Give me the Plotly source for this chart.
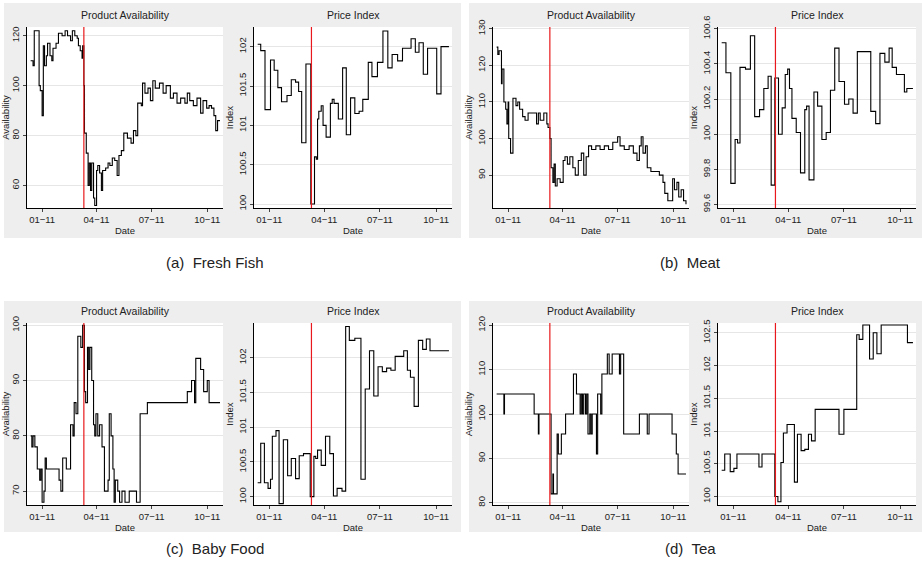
import plotly.graph_objects as go

W, H = 922, 574

fish_av_d = ["2010-12-13","2010-12-17","2010-12-19","2010-12-25","2010-12-27","2010-12-29","2011-01-01","2011-01-03","2011-01-05","2011-01-08","2011-01-10","2011-01-14","2011-01-17","2011-01-19","2011-01-24","2011-01-28","2011-02-03","2011-02-08","2011-02-12","2011-02-17","2011-02-20","2011-02-24","2011-02-28","2011-03-02","2011-03-05","2011-03-08","2011-03-09","2011-03-11","2011-03-12","2011-03-15","2011-03-18","2011-03-20","2011-03-22","2011-03-24","2011-03-27","2011-03-29","2011-04-01","2011-04-03","2011-04-06","2011-04-09","2011-04-11","2011-04-16","2011-04-20","2011-04-23","2011-04-27","2011-05-01","2011-05-05","2011-05-08","2011-05-12","2011-05-16","2011-05-22","2011-05-28","2011-06-01","2011-06-05","2011-06-08","2011-06-14","2011-06-16","2011-06-20","2011-06-25","2011-06-29","2011-07-03","2011-07-07","2011-07-14","2011-07-20","2011-07-25","2011-08-01","2011-08-06","2011-08-12","2011-08-18","2011-08-25","2011-08-29","2011-09-02","2011-09-08","2011-09-14","2011-09-20","2011-09-24","2011-09-30","2011-10-04","2011-10-08","2011-10-12","2011-10-15","2011-10-18","2011-10-22"]
fish_av_v = [110,108,122,122,100,98,88,116,108,112,117,112,110,115,117,121,120,122,120,118,122,120,119,116,114,111,116,100,81,73,60,69,58,69,55,52,66,68,65,58,66,67,69,68,71,70,64,72,74,81,79,77,82,80,93,92,101,97,99,94,102,99,101,97,100,95,97,93,95,93,97,94,92,95,89,94,91,92,91,88,82,86,86]

fish_pr_d = ["2010-12-13","2010-12-18","2010-12-25","2011-01-03","2011-01-09","2011-01-15","2011-01-21","2011-01-30","2011-02-06","2011-02-13","2011-02-18","2011-02-23","2011-03-02","2011-03-10","2011-03-16","2011-03-19","2011-03-21","2011-03-23","2011-03-27","2011-03-30","2011-04-04","2011-04-11","2011-04-14","2011-04-17","2011-04-24","2011-05-01","2011-05-07","2011-05-14","2011-05-21","2011-05-28","2011-06-03","2011-06-12","2011-06-18","2011-06-27","2011-07-06","2011-07-14","2011-07-21","2011-07-30","2011-08-07","2011-08-21","2011-08-28","2011-09-03","2011-09-10","2011-09-17","2011-10-02","2011-10-09","2011-10-22"]
fish_pr_v = [102.03,101.95,101.2,101.83,101.7,101.48,101.3,101.38,101.58,101.55,101.43,100.78,101.78,100.0,100.6,100.57,101.08,101.18,101.25,101.0,100.85,101.28,101.33,101.28,101.08,101.73,100.88,101.35,101.15,101.18,101.33,101.8,101.62,101.8,102.2,101.73,101.9,101.82,101.98,102.1,101.93,102.05,101.65,101.98,101.4,102.0,102.0]

meat_av_d = ["2010-12-13","2010-12-15","2010-12-17","2010-12-21","2010-12-22","2010-12-25","2010-12-28","2010-12-30","2011-01-01","2011-01-02","2011-01-05","2011-01-09","2011-01-14","2011-01-17","2011-01-20","2011-01-25","2011-01-29","2011-02-03","2011-02-10","2011-02-17","2011-02-20","2011-02-23","2011-03-01","2011-03-06","2011-03-08","2011-03-11","2011-03-13","2011-03-16","2011-03-18","2011-03-20","2011-03-23","2011-03-28","2011-04-02","2011-04-05","2011-04-09","2011-04-13","2011-04-18","2011-04-22","2011-04-27","2011-05-02","2011-05-06","2011-05-10","2011-05-14","2011-05-19","2011-05-26","2011-06-02","2011-06-09","2011-06-16","2011-06-23","2011-07-01","2011-07-05","2011-07-12","2011-07-20","2011-07-27","2011-08-02","2011-08-06","2011-08-09","2011-08-12","2011-08-16","2011-08-19","2011-08-25","2011-09-01","2011-09-08","2011-09-14","2011-09-17","2011-09-22","2011-09-30","2011-10-03","2011-10-07","2011-10-10","2011-10-14","2011-10-18","2011-10-22"]
meat_av_v = [125,123,124,115,119,110,108,104,110,100,96,111,109,110,108,106,105,107,107,104,107,105,107,104,103,100,92,88,93,87,89,88,94,95,93,95,92,90,94,96,90,95,98,97,98,97,98,97,99,100.5,98,97,98,96,94,98,100.5,96,98,92,91,91,90,88,85,83,89,86,88,84,86,83,82]

meat_pr_d = ["2010-12-13","2010-12-20","2010-12-28","2011-01-04","2011-01-08","2011-01-12","2011-01-21","2011-01-29","2011-02-05","2011-02-13","2011-02-20","2011-02-27","2011-03-04","2011-03-10","2011-03-16","2011-03-22","2011-03-27","2011-03-31","2011-04-03","2011-04-07","2011-04-14","2011-04-21","2011-04-28","2011-05-01","2011-05-05","2011-05-13","2011-05-19","2011-05-26","2011-06-02","2011-06-09","2011-06-16","2011-06-23","2011-07-02","2011-07-09","2011-07-16","2011-07-23","2011-08-14","2011-08-22","2011-08-29","2011-09-06","2011-09-13","2011-09-18","2011-09-25","2011-10-08","2011-10-12","2011-10-22"]
meat_pr_v = [100.52,100.35,99.72,99.97,99.95,100.38,100.37,100.56,100.1,100.14,100.26,100.33,99.71,100.32,100.0,100.15,100.34,100.37,100.26,100.09,100.01,99.78,100.14,100.16,99.74,100.24,100.16,99.97,100.01,100.25,100.49,100.3,100.17,100.2,100.12,100.47,100.13,100.06,100.46,100.41,100.49,100.38,100.34,100.24,100.26,100.26]

baby_av_d = ["2010-12-13","2010-12-15","2010-12-17","2010-12-20","2010-12-24","2010-12-28","2010-12-30","2011-01-01","2011-01-04","2011-01-06","2011-01-08","2011-01-29","2011-02-01","2011-02-04","2011-02-10","2011-02-17","2011-02-21","2011-02-23","2011-02-26","2011-03-01","2011-03-06","2011-03-09","2011-03-12","2011-03-14","2011-03-17","2011-03-19","2011-03-21","2011-03-24","2011-03-27","2011-03-29","2011-03-31","2011-04-03","2011-04-06","2011-04-10","2011-04-14","2011-04-20","2011-04-22","2011-04-25","2011-04-28","2011-04-30","2011-05-02","2011-05-06","2011-05-09","2011-05-13","2011-05-18","2011-05-25","2011-06-06","2011-06-12","2011-06-24","2011-08-29","2011-09-05","2011-09-10","2011-09-12","2011-09-20","2011-09-25","2011-10-01","2011-10-04","2011-10-22"]
baby_av_v = [80,78,80,78,74,72,74,68,70,76,74,72,70,76,74,82,80,86,84,98,96,100,88,86,96,92,96,90,82,80,84,80,82,78,70,72,84,80,74,68,72,70,68,70,68,70,68,84,86,88,90,86,94,92,88,90,86,86]

baby_pr_d = ["2010-12-13","2010-12-18","2010-12-24","2010-12-30","2011-01-03","2011-01-06","2011-01-12","2011-01-17","2011-01-24","2011-01-31","2011-02-06","2011-02-13","2011-02-19","2011-02-26","2011-03-09","2011-03-15","2011-03-18","2011-03-21","2011-03-27","2011-04-03","2011-04-10","2011-04-16","2011-04-22","2011-04-30","2011-05-06","2011-05-12","2011-05-21","2011-05-31","2011-06-07","2011-06-14","2011-06-21","2011-06-28","2011-07-05","2011-07-12","2011-07-19","2011-07-26","2011-08-09","2011-08-15","2011-08-20","2011-08-26","2011-09-02","2011-09-09","2011-09-15","2011-09-21","2011-10-22"]
baby_pr_v = [100.2,100.77,100.2,100.12,100.25,100.87,100.95,99.9,100.82,100.3,100.55,100.26,100.59,100.62,100.0,100.58,100.55,100.67,100.45,100.87,100.62,100.01,100.12,100.08,102.45,102.25,102.28,100.25,101.55,102.1,101.45,101.87,101.8,101.85,101.82,102.02,102.1,101.82,101.72,101.3,102.25,102.12,102.27,102.1,102.1]

tea_av_d = ["2010-12-13","2010-12-25","2010-12-26","2011-02-13","2011-02-20","2011-02-21","2011-03-13","2011-03-16","2011-03-17","2011-03-23","2011-03-25","2011-03-30","2011-04-06","2011-04-19","2011-04-24","2011-04-30","2011-05-02","2011-05-04","2011-05-06","2011-05-09","2011-05-11","2011-05-13","2011-05-16","2011-05-18","2011-05-20","2011-05-27","2011-05-29","2011-06-03","2011-06-05","2011-06-14","2011-06-17","2011-06-22","2011-07-04","2011-07-06","2011-07-11","2011-08-06","2011-08-19","2011-08-22","2011-09-29","2011-10-06","2011-10-09","2011-10-22"]
tea_av_v = [104.5,100,104.5,100,95.5,100,82,86.5,82,95.5,91,95.5,100,109,104.5,100,104.5,100,104.5,100,104.5,95.5,100,95.5,100,91,104.5,100,109,113.5,109,113.5,109,113.5,95.5,100,95.5,100,95.5,91,86.5,86.5]

tea_pr_d = ["2010-12-13","2010-12-18","2010-12-27","2011-01-02","2011-01-07","2011-02-12","2011-02-17","2011-03-10","2011-03-15","2011-03-20","2011-03-24","2011-03-30","2011-04-11","2011-04-16","2011-04-22","2011-04-28","2011-05-04","2011-05-09","2011-05-15","2011-06-23","2011-07-01","2011-07-22","2011-07-26","2011-08-01","2011-08-12","2011-08-18","2011-08-24","2011-08-31","2011-10-13","2011-10-22"]
tea_pr_v = [100.4,100.65,100.38,100.43,100.65,100.45,100.65,100.0,99.92,100.52,100.97,101.1,100.22,100.95,100.7,100.72,100.95,100.85,101.33,100.95,101.33,102.47,102.4,102.62,102.1,102.5,102.18,102.62,102.35,102.35]

tick_vals = ["2011-01-01","2011-04-01","2011-07-01","2011-10-01"]
tick_text = ["01\u221211","04\u221211","07\u221211","10\u221211"]
event_date = "2011-03-11"
captions = ["(a)  Fresh Fish","(b)  Meat","(c)  Baby Food","(d)  Tea"]

series = [
    (fish_av_d, fish_av_v, "Availability", [51,123.5], [60,80,100,120]),
    (fish_pr_d, fish_pr_v, "Index", [99.95,102.25], [100,100.5,101,101.5,102]),
    (meat_av_d, meat_av_v, "Availability", [81,130.5], [80,90,100,110,120,130]),
    (meat_pr_d, meat_pr_v, "Index", [99.58,100.61], [99.6,99.8,100,100.2,100.4,100.6]),
    (baby_av_d, baby_av_v, "Availability", [67.5,100.4], [70,80,90,100]),
    (baby_pr_d, baby_pr_v, "Index", [99.88,102.5], [100,100.5,101,101.5,102]),
    (tea_av_d, tea_av_v, "Availability", [79.5,120.5], [80,90,100,110,120]),
    (tea_pr_d, tea_pr_v, "Index", [99.87,102.65], [100,100.5,101,101.5,102,102.5]),
]

xpix = [(27,223),(254,452),(493,689),(718,916)]
ypix = [(27,208),(323,505)]
boxes = [(4,3,461,238),(469,3,922,238),(4,301,461,532),(469,301,922,532)]

fig = go.Figure()
layout = dict(width=W, height=H, margin=dict(l=0,r=0,t=0,b=0), paper_bgcolor="white",
              plot_bgcolor="white", showlegend=False, font=dict(family="Liberation Sans, Arial", color="#222"))
shapes, annots = [], []
for (x0,y0,x1,y1) in boxes:
    shapes.append(dict(type="rect", xref="paper", yref="paper", x0=x0/W, x1=x1/W, y0=1-y1/H, y1=1-y0/H,
                       fillcolor="#eeeeee", line=dict(width=0), layer="below"))
for i in range(8):
    xp = xpix[i%4]; yp = ypix[i//4]
    shapes.append(dict(type="rect", xref="paper", yref="paper", x0=xp[0]/W, x1=xp[1]/W, y0=1-yp[1]/H, y1=1-yp[0]/H,
                       fillcolor="white", line=dict(width=0), layer="below"))
for i,(d,v,yt,yr,yticks) in enumerate(series):
    k = i+1
    xp = xpix[i%4]; yp = ypix[i//4]
    xn = "x" if k==1 else f"x{k}"; yn = "y" if k==1 else f"y{k}"
    fig.add_trace(go.Scatter(x=d, y=v, mode="lines", line=dict(color="black", width=1.1, shape="hv"),
                             xaxis=xn, yaxis=yn))
    layout["xaxis" if k==1 else f"xaxis{k}"] = dict(domain=[xp[0]/W, xp[1]/W], anchor=yn, type="date",
        range=["2010-12-07","2011-10-27"], tickvals=tick_vals, ticktext=tick_text, showgrid=False,
        showline=True, linecolor="black", linewidth=1, ticks="outside", ticklen=3, tickfont=dict(size=9.5),
        title=dict(text="Date", font=dict(size=9.5), standoff=2), automargin=False)
    layout["yaxis" if k==1 else f"yaxis{k}"] = dict(domain=[1-yp[1]/H, 1-yp[0]/H], anchor=xn, range=yr,
        tickvals=yticks, tickangle=-90, showgrid=True, gridcolor="#e6e6e6", zeroline=False,
        showline=True, linecolor="black", linewidth=1, ticks="outside", ticklen=3, tickfont=dict(size=9.5),
        title=dict(text=yt, font=dict(size=9.5), standoff=1), automargin=False)
    shapes.append(dict(type="line", xref=xn, yref=f"{yn} domain", x0=event_date, x1=event_date, y0=0, y1=1,
                       line=dict(color="#e8181c", width=1.2)))
    annots.append(dict(text="Product Availability" if i%2==0 else "Price Index", xref="paper", yref="paper",
                       x=(xp[0]+xp[1])/2/W, y=1-(yp[0]-12)/H, showarrow=False, font=dict(size=10.5),
                       xanchor="center", yanchor="middle"))
cap_pos = [(215,262),(690,262),(215,548),(690,548)]
for c,(cx,cy) in zip(captions, cap_pos):
    annots.append(dict(text=c, xref="paper", yref="paper", x=cx/W, y=1-cy/H, showarrow=False,
                       font=dict(size=15), xanchor="center", yanchor="middle"))
layout["shapes"] = shapes
layout["annotations"] = annots
fig.update_layout(**layout)
fig.write_html("out.html", config={"displayModeBar": False},
               post_script="document.body.style.margin='0';document.body.style.overflow='hidden';")
